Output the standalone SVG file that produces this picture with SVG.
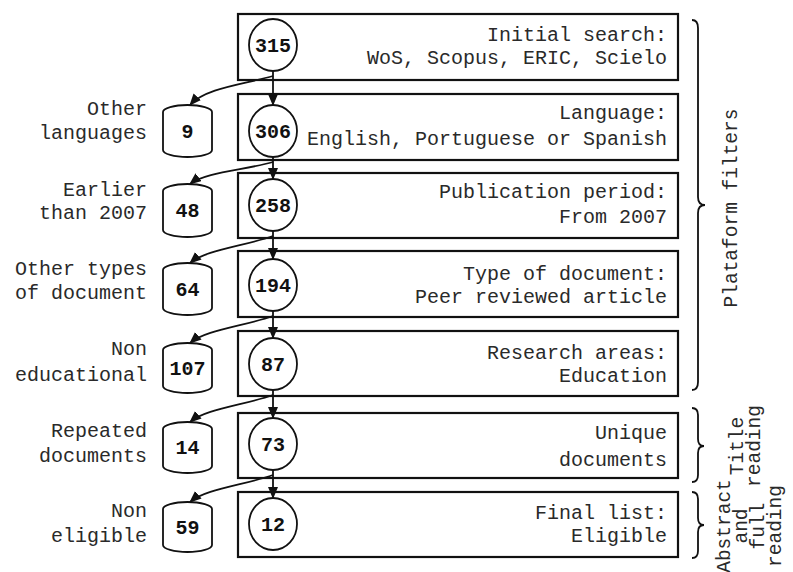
<svg xmlns="http://www.w3.org/2000/svg" width="793" height="572" viewBox="0 0 793 572">
<style>
text{font-family:"Liberation Mono","DejaVu Sans Mono",monospace;font-size:20px;fill:#2a2a2a}
.num{font-weight:bold;text-anchor:middle;font-size:20px;fill:#111}
.r{text-anchor:end}
.v{text-anchor:middle;font-size:19.5px}
.box{fill:#fff;stroke:#111;stroke-width:2.2}
.circ{fill:#fff;stroke:#111;stroke-width:1.8}
.cyl{fill:#fff;stroke:#111;stroke-width:1.8}
.ln{fill:none;stroke:#111;stroke-width:1.8}
.br{fill:none;stroke:#111;stroke-width:1.8}
</style>
<defs>
<marker id="ah" markerUnits="userSpaceOnUse" markerWidth="12" markerHeight="10" refX="11" refY="5" orient="auto">
<path d="M0,0 L12,5 L0,10 Z" fill="#111"/>
</marker>
</defs>
<rect width="793" height="572" fill="#fff"/>

<g id="step1">
<rect class="box" x="238" y="14" width="440" height="66"/>
<text class="r" x="667" y="41">Initial search:</text>
<text class="r" x="667" y="64">WoS, Scopus, ERIC, Scielo</text>
<ellipse class="circ" cx="273" cy="45" rx="24" ry="26"/>
<text class="num" x="273" y="52">315</text>
</g>
<g id="step2">
<rect class="box" x="238" y="94" width="440" height="66"/>
<text class="r" x="667" y="119">Language:</text>
<text class="r" x="667" y="145">English, Portuguese or Spanish</text>
<ellipse class="circ" cx="273" cy="131" rx="24" ry="26"/>
<text class="num" x="273" y="138">306</text>
</g>
<g id="step3">
<rect class="box" x="238" y="173" width="440" height="65"/>
<text class="r" x="667" y="198">Publication period:</text>
<text class="r" x="667" y="223">From 2007</text>
<ellipse class="circ" cx="273" cy="205" rx="24" ry="26"/>
<text class="num" x="273" y="212">258</text>
</g>
<g id="step4">
<rect class="box" x="238" y="251" width="440" height="66"/>
<text class="r" x="667" y="280">Type of document:</text>
<text class="r" x="667" y="303">Peer reviewed article</text>
<ellipse class="circ" cx="273" cy="285" rx="24" ry="26"/>
<text class="num" x="273" y="292">194</text>
</g>
<g id="step5">
<rect class="box" x="238" y="331" width="440" height="65"/>
<text class="r" x="667" y="359">Research areas:</text>
<text class="r" x="667" y="382">Education</text>
<ellipse class="circ" cx="273" cy="364" rx="24" ry="26"/>
<text class="num" x="273" y="371">87</text>
</g>
<g id="step6">
<rect class="box" x="238" y="413" width="440" height="65"/>
<text class="r" x="667" y="439">Unique</text>
<text class="r" x="667" y="466">documents</text>
<ellipse class="circ" cx="273" cy="444" rx="24" ry="26"/>
<text class="num" x="273" y="451">73</text>
</g>
<g id="step7">
<rect class="box" x="238" y="492" width="440" height="65"/>
<text class="r" x="667" y="519">Final list:</text>
<text class="r" x="667" y="542">Eligible</text>
<ellipse class="circ" cx="273" cy="524" rx="24" ry="26"/>
<text class="num" x="273" y="531">12</text>
</g>

<g id="excl1">
<path class="cyl" d="M163,112 A24.5,7 0 0 1 212,112 V150 A24.5,7 0 0 1 163,150 Z"/>
<text class="num" x="187.5" y="138">9</text>
<text class="r" x="147" y="115">Other</text>
<text class="r" x="147" y="139">languages</text>
</g>
<g id="excl2">
<path class="cyl" d="M163,191 A24.5,7 0 0 1 212,191 V230 A24.5,7 0 0 1 163,230 Z"/>
<text class="num" x="187.5" y="217">48</text>
<text class="r" x="147" y="196">Earlier</text>
<text class="r" x="147" y="219">than 2007</text>
</g>
<g id="excl3">
<path class="cyl" d="M163,270 A24.5,7 0 0 1 212,270 V308 A24.5,7 0 0 1 163,308 Z"/>
<text class="num" x="187.5" y="296">64</text>
<text class="r" x="147" y="275">Other types</text>
<text class="r" x="147" y="299">of document</text>
</g>
<g id="excl4">
<path class="cyl" d="M163,350 A24.5,7 0 0 1 212,350 V386 A24.5,7 0 0 1 163,386 Z"/>
<text class="num" x="187.5" y="375">107</text>
<text class="r" x="147" y="355">Non</text>
<text class="r" x="147" y="381">educational</text>
</g>
<g id="excl5">
<path class="cyl" d="M163,429 A24.5,7 0 0 1 212,429 V466 A24.5,7 0 0 1 163,466 Z"/>
<text class="num" x="187.5" y="454">14</text>
<text class="r" x="147" y="437">Repeated</text>
<text class="r" x="147" y="462">documents</text>
</g>
<g id="excl6">
<path class="cyl" d="M163,509 A24.5,7 0 0 1 212,509 V545 A24.5,7 0 0 1 163,545 Z"/>
<text class="num" x="187.5" y="534">59</text>
<text class="r" x="147" y="517">Non</text>
<text class="r" x="147" y="542">eligible</text>
</g>

<g id="connectors">
<path class="ln" d="M273,71 V105" marker-end="url(#ah)"/>
<path class="ln" d="M273,157 V179" marker-end="url(#ah)"/>
<path class="ln" d="M273,231 V259" marker-end="url(#ah)"/>
<path class="ln" d="M273,311 V338" marker-end="url(#ah)"/>
<path class="ln" d="M273,390 V418" marker-end="url(#ah)"/>
<path class="ln" d="M273,470 V498" marker-end="url(#ah)"/>
<path class="ln" d="M273,76 C245,84 205,88 190,105" marker-end="url(#ah)"/>
<path class="ln" d="M273,162 C245,170 205,172 190,184" marker-end="url(#ah)"/>
<path class="ln" d="M273,236 C245,246 205,250 190,263" marker-end="url(#ah)"/>
<path class="ln" d="M273,316 C245,326 205,330 190,343" marker-end="url(#ah)"/>
<path class="ln" d="M273,395 C245,405 205,409 190,422" marker-end="url(#ah)"/>
<path class="ln" d="M273,475 C245,485 205,489 190,502" marker-end="url(#ah)"/>
</g>

<g id="brace-platform">
<path class="br" d="M692,20 Q698,20 698,28 V197 Q698,205 705,205 Q698,205 698,213 V382 Q698,390 692,390"/>
<text class="v" transform="translate(737,208) rotate(-90)">Plataform filters</text>
</g>
<g id="brace-title">
<path class="br" d="M692,408 Q698,408 698,415 V439 Q698,446 704,446 Q698,446 698,453 V475 Q698,482 692,482"/>
<text class="v" transform="translate(743,446) rotate(-90)">Title</text>
<text class="v" transform="translate(760,446) rotate(-90)">reading</text>
</g>
<g id="brace-abstract">
<path class="br" d="M692,492 Q698,492 698,499 V518 Q698,525 704,525 Q698,525 698,532 V551 Q698,558 692,558"/>
<text class="v" transform="translate(730,526) rotate(-90)">Abstract</text>
<text class="v" transform="translate(747,526) rotate(-90)">and</text>
<text class="v" transform="translate(764,526) rotate(-90)">full</text>
<text class="v" transform="translate(781,526) rotate(-90)">reading</text>
</g>
</svg>
